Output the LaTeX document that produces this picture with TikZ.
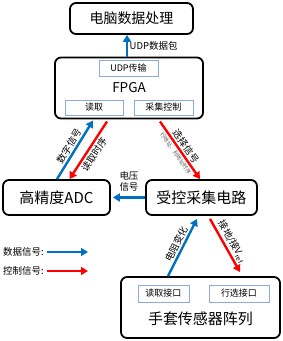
\documentclass[tikz,border=0pt]{standalone}
\usepackage{fontspec}
\setmainfont{Noto Sans CJK SC}
\usetikzlibrary{arrows.meta}
\definecolor{dblue}{RGB}{0,112,192}
\definecolor{dred}{RGB}{255,0,0}
\definecolor{ibord}{RGB}{143,170,220}
\begin{document}
\begin{tikzpicture}[x=1pt,y=-1pt,
  bigbox/.style n args={2}{draw=black, line width=1.8pt, rounded corners=6pt, inner sep=0pt, minimum width=#1, minimum height=#2},
  inbox/.style n args={2}{draw=ibord, line width=1pt, fill=white, inner sep=0pt, minimum width=#1, minimum height=#2, font=\fontsize{9}{10}\selectfont},
  darr/.style={draw=dblue, line width=2.4pt, -{Triangle[length=7pt,width=8pt]}},
  carr/.style={draw=dred, line width=2.4pt, -{Triangle[length=7pt,width=8pt]}},
  lbl/.style={font=\fontsize{9.5}{11}\selectfont, inner sep=1.5pt},
  tiny/.style={font=\fontsize{5.5}{6}\selectfont, inner sep=1.5pt, text=gray!70!black}
]
\useasboundingbox (0,0) rectangle (283,341);
\fill[white] (0,0) rectangle (283,341);

% boxes
\node[bigbox={123pt}{31pt}, font=\fontsize{14}{16}\selectfont] (pc) at (131.5,18.5) {电脑数据处理};
\node[bigbox={148pt}{61pt}, font=\fontsize{13.5}{15}\selectfont] (fpga) at (129,88) {FPGA};
\node[inbox={59pt}{16pt}] (udp) at (128.5,68) {UDP传输};
\node[inbox={58pt}{15pt}] (rd) at (94,107.5) {读取};
\node[inbox={59pt}{15pt}] (ctrl) at (163.5,107.5) {采集控制};
\node[bigbox={107pt}{35pt}, font=\fontsize{15}{17}\selectfont] (adc) at (56.5,197.5) {高精度ADC};
\node[bigbox={111pt}{35pt}, font=\fontsize{15}{17}\selectfont] (acq) at (201.5,197.5) {受控采集电路};
\node[bigbox={159pt}{61pt}] (glove) at (200.5,307.5) {};
\node[inbox={51pt}{17pt}] (rif) at (163.5,293.5) {读取接口};
\node[inbox={60pt}{17pt}] (rowif) at (239,293.5) {行选接口};
\node[font=\fontsize{15}{17}\selectfont, inner sep=0pt] (glovet) at (200.5,319) {手套传感器阵列};

% connectors
\draw[darr] ([xshift=-2pt]fpga.north) -- ([xshift=-2pt]fpga.north |- pc.south)
  node[midway, right, lbl] {UDP数据包};
\draw[darr] ([xshift=0.5pt]adc.north) -- ([xshift=-1pt,yshift=-5pt]rd.south)
  node[midway, sloped, above, lbl] {数字信号};
\draw[carr] ([xshift=13pt,yshift=-6pt]rd.south) -- ([xshift=13pt]adc.north)
  node[midway, sloped, below, lbl] {读取时序};
\draw[carr] ([xshift=-3.5pt,yshift=-6pt]ctrl.south) -- ([xshift=-1.5pt]acq.north)
  node[midway, sloped, above, lbl] {选择信号}
  node[midway, sloped, below, tiny] {行地址、列地址时序};
\draw[darr] (acq.west) -- ([xshift=2pt]adc.east);
\node[lbl, align=center] (vlbl) at (129,181) {电压\\信号};
\draw[darr] ([xshift=-32.5pt]glove.north) -- ([xshift=-4.5pt,yshift=-3pt]acq.south)
  node[midway, sloped, above, lbl] {电阻变化};
\draw[carr] ([xshift=8.5pt,yshift=-3pt]acq.south) -- ([xshift=39.5pt,yshift=4pt]glove.north)
  node[midway, sloped, above, lbl] {接地/接V\textsubscript{ref}};

% legend
\node[lbl, anchor=west, inner sep=0pt] (leg1) at (3,252) {数据信号:};
\node[lbl, anchor=west, inner sep=0pt] (leg2) at (3,271) {控制信号:};
\coordinate (l1e) at (88,252);
\coordinate (l2e) at (88,271);
\draw[darr] ([xshift=3pt]leg1.east) -- (l1e);
\draw[carr] ([xshift=3pt]leg2.east) -- (l2e);
\end{tikzpicture}
\end{document}
